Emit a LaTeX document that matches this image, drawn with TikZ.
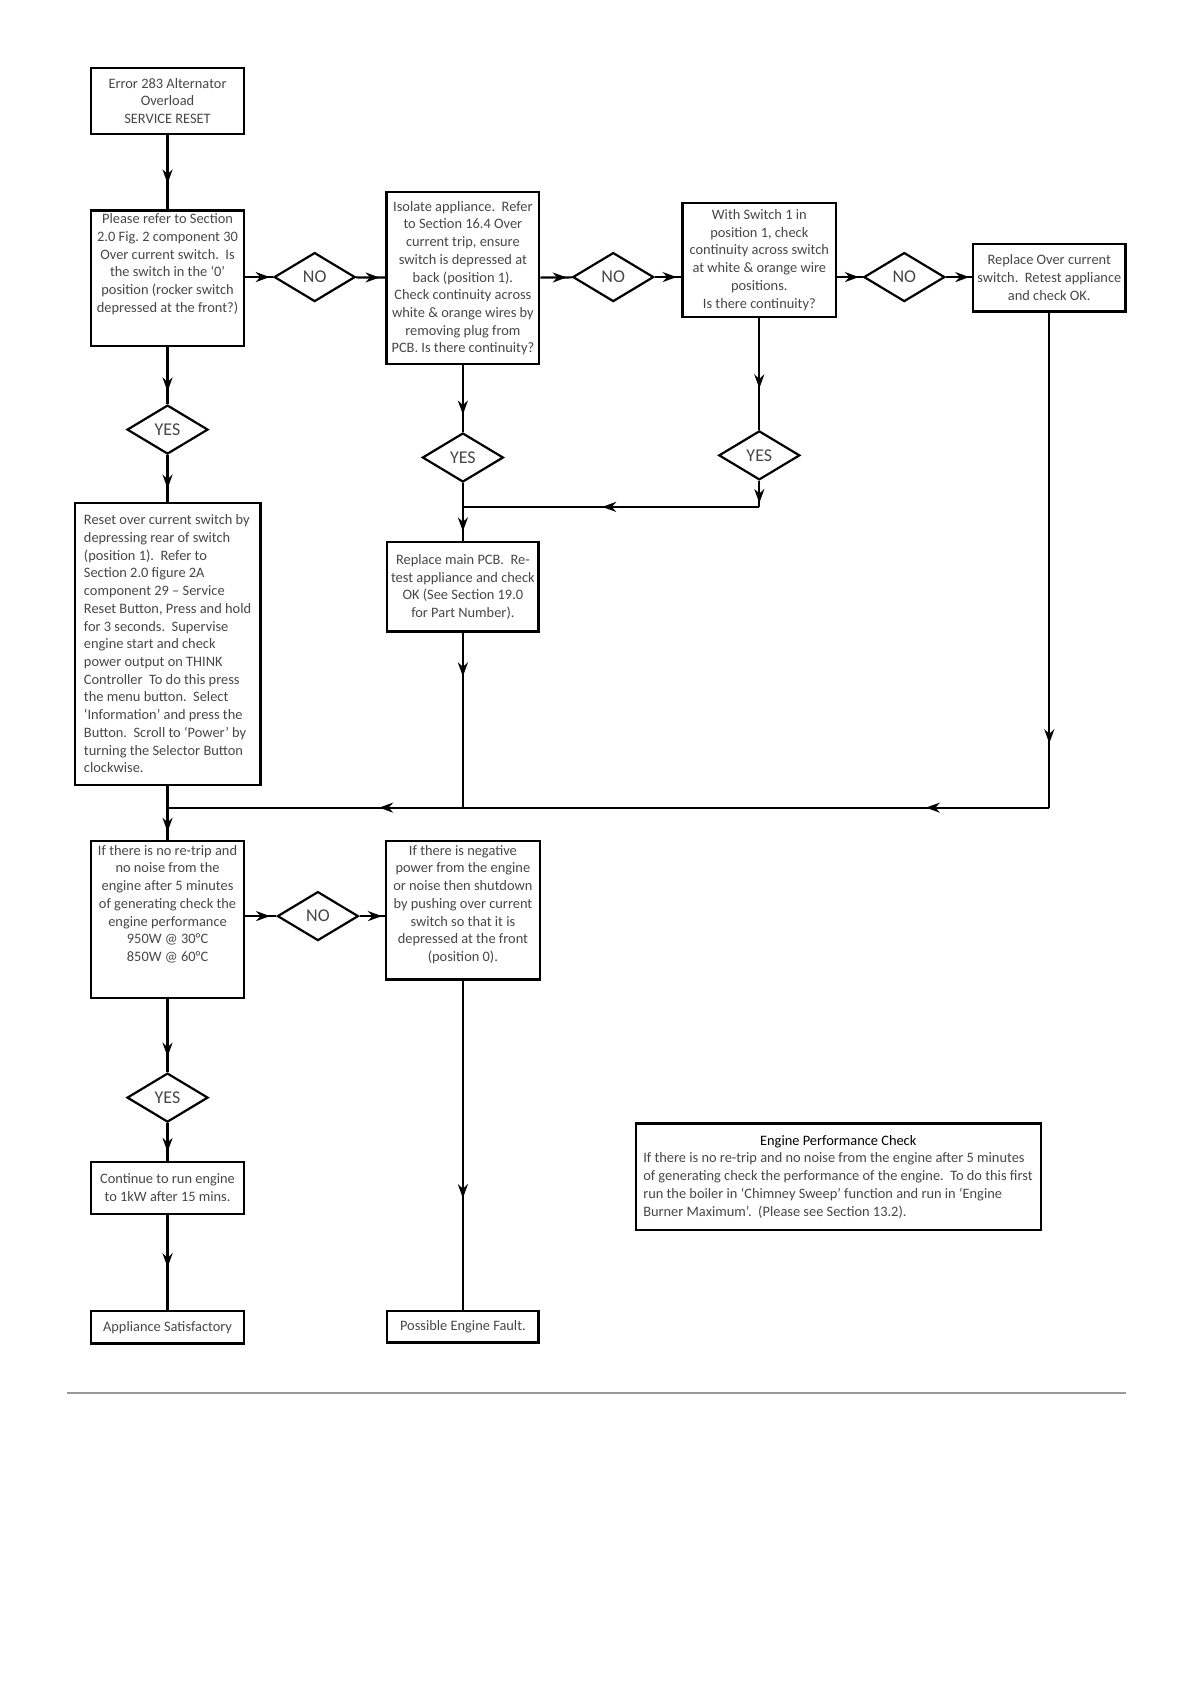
\documentclass[tikz,border=0pt]{standalone}
\usepackage{fontspec}
\setmainfont{Carlito}
\usetikzlibrary{shapes.geometric, arrows.meta, positioning, decorations.markings}
\definecolor{inkgray}{RGB}{70,70,70}
\newcommand{\boxfont}{\fontsize{7.2pt}{8.86pt}\selectfont\frenchspacing}
\newcommand{\decfont}{\fontsize{9pt}{10pt}\selectfont}

\tikzset{
  box/.style={draw, line width=1.1pt, anchor=north, align=center, inner sep=0pt,
    font=\boxfont, text=inkgray, minimum width=76.3pt},
  txt/.style={anchor=north, align=center, inner sep=0pt, font=\boxfont, text=inkgray},
  decision/.style={diamond, draw, line width=1.1pt, minimum width=40.5pt,
    minimum height=24.5pt, inner sep=0pt, font=\decfont, text=inkgray},
  flow/.style={line width=1.1pt, postaction={decorate},
    decoration={markings, mark=at position #1 with {\arrow{Stealth[length=7pt,width=5pt]}}}},
  flowtwo/.style 2 args={line width=1.1pt, postaction={decorate},
    decoration={markings,
      mark=at position #1 with {\arrow{Stealth[length=7pt,width=5pt]}},
      mark=at position #2 with {\arrow{Stealth[length=7pt,width=5pt]}}}},
}

\begin{document}
\begin{tikzpicture}[x=0.537pt, y=-0.537pt]
    \useasboundingbox (0,0) rectangle (1108,1568);

    % Top row
    \node[box, minimum height=33.3pt] (err) at (156,62) {Error 283 Alternator\\Overload\\SERVICE RESET};
    \node[box, minimum height=67.7pt] (refer) at (156,195) {};
    \node[txt, below=2pt of refer.north] (refertxt) {Please refer to Section\\2.0 Fig. 2 component 30\\Over current switch.~ Is\\the switch in the ‘0’\\position (rocker switch\\depressed at the front?)};
    \node[decision] (no1) at (293,258) {NO};
    \node[box, minimum height=85.9pt] (isolate) at (431,178) {Isolate appliance.~ Refer\\to Section 16.4 Over\\current trip, ensure\\switch is depressed at\\back (position 1).\\Check continuity across\\white \& orange wires by\\removing plug from\\PCB. Is there continuity?};
    \node[decision] (no2) at (571,258) {NO};
    \node[box, minimum width=76.8pt, minimum height=56.9pt] (cont) at (707,188) {With Switch 1 in\\position 1, check\\continuity across switch\\at white \& orange wire\\positions.\\Is there continuity?};
    \node[decision] (no3) at (842,258) {NO};
    \node[box, minimum height=33.8pt] (replsw) at (977,226) {Replace Over current\\switch.~ Retest appliance\\and check OK.};

    % Middle row
    \node[decision] (yes1) at (156,400) {YES};
    \node[box, align=left, minimum width=92.9pt, minimum height=141.2pt] (reset) at (156,467) {Reset over current switch by\\depressing rear of switch\\(position 1).~ Refer to\\Section 2.0 figure 2A\\component 29 – Service\\Reset Button, Press and hold\\for 3 seconds.~ Supervise\\engine start and check\\power output on THINK\\Controller~ To do this press\\the menu button.~ Select\\‘Information’ and press the\\Button.~ Scroll to ‘Power’ by\\turning the Selector Button\\clockwise.};
    \node[decision] (yes2) at (431,426) {YES};
    \node[decision] (yes3) at (707,424) {YES};
    \node[box, minimum width=75.7pt, minimum height=44.6pt] (pcb) at (431,504) {Replace main PCB.~ Re-\\test appliance and check\\OK (See Section 19.0\\for Part Number).};
    \coordinate (jpcb) at (431,472);
    \coordinate (jmain) at (156,752);

    % Lower rows
    \node[box, minimum height=78.4pt] (perf) at (156,782) {};
    \node[txt, below=2.5pt of perf.north] (perftxt) {If there is no re-trip and\\no noise from the\\engine after 5 minutes\\of generating check the\\engine performance\\950W @ 30°C\\850W @ 60°C};
    \node[decision] (no4) at (296,853) {NO};
    \node[box, minimum width=76.8pt, minimum height=69.3pt] (shut) at (431,782) {};
    \node[txt, below=2.5pt of shut.north] (shuttxt) {If there is negative\\power from the engine\\or noise then shutdown\\by pushing over current\\switch so that it is\\depressed at the front\\(position 0).};
    \node[decision] (yes4) at (156,1022) {YES};
    \node[box, minimum height=25.8pt] (run) at (156,1081) {Continue to run engine\\to 1kW after 15 mins.};
    \node[box, minimum height=16.1pt] (ok) at (156,1220) {Appliance Satisfactory};
    \node[box, minimum width=75.7pt, minimum height=15.6pt] (fault) at (431,1220) {Possible Engine Fault.};

    % Note box
    \node[box, align=left, minimum width=202.4pt, minimum height=53.2pt] (note) at (780.5,1045) {\makebox[195pt]{\color{black}Engine Performance Check}\\If there is no re-trip and no noise from the engine after 5 minutes\\of generating check the performance of the engine.~ To do this first\\run the boiler in ‘Chimney Sweep’ function and run in ‘Engine\\Burner Maximum’.~ (Please see Section 13.2).};

    % Connectors
    \draw[flow=0.65] (err) -- (refer);
    \draw[flow=0.78] (refer) -- (yes1);
    \draw[flow=0.72] (yes1) -- (reset);
    \draw[flow=0.88] (refer.east |- no1) -- (no1);
    \draw[flow=0.8] (no1) -- (isolate);
    \draw[flow=0.83] (isolate) -- (no2);
    \draw[flow=0.82] (no2) -- (no2 -| cont.west);
    \draw[flow=0.85] (no3 -| cont.east) -- (no3);
    \draw[flow=0.9] (no3) -- (no3 -| replsw.west);
    \draw[flow=0.74] (isolate) -- (yes2);
    \draw[flow=0.83] (yes2) -- (pcb);
    \draw[flow=0.63] (cont) -- (yes3);
    \draw[flow=0.85] (yes3) -- (yes3 |- jpcb);
    \draw[flow=0.53] (yes3 |- jpcb) -- (jpcb);
    \draw[flow=0.25] (pcb) -- (pcb |- jmain);
    \draw[flow=0.87] (replsw) -- (replsw |- jmain);
    \draw[flowtwo={0.14}{0.76}] (replsw |- jmain) -- (jmain);
    \draw[flow=0.85] (reset) -- (perf);
    \draw[flow=0.8] (perf.east |- no4) -- (no4);
    \draw[flow=0.88] (no4) -- (no4 -| shut.west);
    \draw[flow=0.79] (perf) -- (yes4);
    \draw[flow=0.76] (yes4) -- (run);
    \draw[flow=0.55] (run) -- (ok);
    \draw[flow=0.66] (shut) -- (fault);

    % Page rule
    \draw[black!40, line width=0.8pt] (62,1297) -- (1048,1297);
\end{tikzpicture}
\end{document}
